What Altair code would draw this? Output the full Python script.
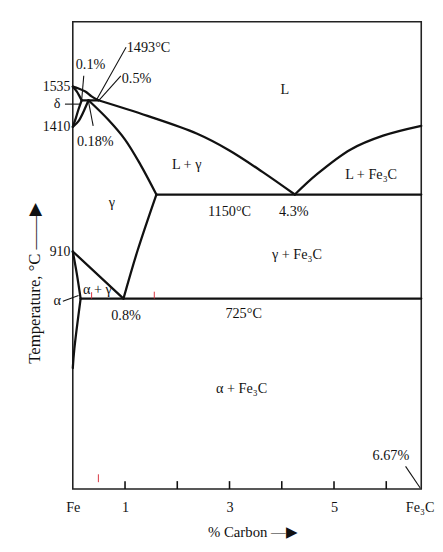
import altair as alt
import pandas as pd

# ---------------- data (composition in % carbon, temperature in °C) ----------------
liq_delta_c = [0, 0.11, 0.24, 0.36, 0.49]
liq_delta_t = [1535, 1529, 1520, 1505, 1493]

liquidus_c = [0.49, 1.43, 2.37, 2.99, 3.63, 4.25]
liquidus_t = [1493, 1444, 1384, 1320, 1237, 1150]

liq_right_c = [4.25, 4.68, 5.32, 5.94, 6.67]
liq_right_t = [1150, 1229, 1323, 1376, 1413]

delta_up_c = [0, 0.075, 0.13, 0.17]
delta_up_t = [1535, 1520, 1505, 1493]

delta_low_c = [0, 0.06, 0.11, 0.17]
delta_low_t = [1410, 1438, 1465, 1493]

gamma_left_c = [0, 0.11, 0.21, 0.30]
gamma_left_t = [1410, 1428, 1459, 1493]

peritectic_c = [0.17, 0.49]
peritectic_t = [1493, 1493]

solidus_c = [0.30, 0.68, 1.0, 1.30, 1.6]
solidus_t = [1493, 1432, 1361, 1263, 1150]

eutectic_c = [1.6, 6.67]
eutectic_t = [1150, 1150]

acm_c = [0.97, 1.24, 1.6]
acm_t = [725, 914, 1150]

a3_c = [0, 0.97]
a3_t = [910, 725]

alpha_up_c = [0, 0.075, 0.15]
alpha_up_t = [910, 825, 725]

alpha_low_c = [0.15, 0.03, 0]
alpha_low_t = [725, 534, 460]

eutectoid_c = [0.15, 6.67]
eutectoid_t = [725, 725]

# leader lines for annotations
lead_delta_c = [-0.15, 0.15]
lead_delta_t = [1481, 1481]
lead_alpha_c = [-0.19, 0.11]
lead_alpha_t = [715, 737]
lead_01_c = [0.21, 0.17]
lead_01_t = [1579, 1493]
lead_1493_c = [1.02, 0.45]
lead_1493_t = [1696, 1493]
lead_05_c = [0.92, 0.50]
lead_05_t = [1579, 1493]
lead_018_c = [0.30, 0.39]
lead_018_t = [1490, 1413]
lead_667_c = [6.37, 6.65]
lead_667_t = [86, 4]

# text annotations
label_text = ["1493°C", "0.1%", "0.5%", "0.18%", "δ", "α", "L", "L + γ", "L + Fe₃C", "γ",
              "1150°C", "4.3%", "γ + Fe₃C", "α + γ", "0.8%", "725°C", "α + Fe₃C", "6.67%"]
label_c = [1.45, 0.34, 1.22, 0.43, -0.30, -0.30, 4.06, 2.18, 5.71, 0.75,
           3.0, 4.23, 4.29, 0.47, 1.02, 3.27, 3.23, 6.09]
label_t = [1692, 1623, 1567, 1350, 1481, 715, 1523, 1263, 1226, 1113,
           1076, 1076, 895, 760, 658, 665, 381, 127]

# inner ticks on the composition axis
tick_c = [1, 2, 3, 4, 5, 6]
tick_lo = [0, 0, 0, 0, 0, 0]
tick_hi = [30, 30, 30, 30, 30, 30]

# small red marks visible on the original
red_c = [0.36, 1.56, 0.49]
red_lo = [725, 725, 26]
red_hi = [750, 752, 56]

# axis label values
x_label_values = [0, 1, 3, 5, 6.67]
y_label_values = [910, 1410, 1535]

# ---------------- tables ----------------
boundaries = [
    ("liq_delta", liq_delta_c, liq_delta_t),
    ("liquidus", liquidus_c, liquidus_t), ("liq_right", liq_right_c, liq_right_t),
    ("delta_up", delta_up_c, delta_up_t), ("delta_low", delta_low_c, delta_low_t),
    ("gamma_left", gamma_left_c, gamma_left_t), ("peritectic", peritectic_c, peritectic_t),
    ("solidus", solidus_c, solidus_t), ("eutectic", eutectic_c, eutectic_t),
    ("acm", acm_c, acm_t), ("a3", a3_c, a3_t),
    ("alpha_up", alpha_up_c, alpha_up_t), ("alpha_low", alpha_low_c, alpha_low_t),
    ("eutectoid", eutectoid_c, eutectoid_t),
]
leaders = [
    ("l_delta", lead_delta_c, lead_delta_t), ("l_alpha", lead_alpha_c, lead_alpha_t),
    ("l_01", lead_01_c, lead_01_t), ("l_1493", lead_1493_c, lead_1493_t),
    ("l_05", lead_05_c, lead_05_t), ("l_018", lead_018_c, lead_018_t),
    ("l_667", lead_667_c, lead_667_t),
]


def to_rows(segs):
    rows = []
    for name, cs, ts in segs:
        for i, (c, t) in enumerate(zip(cs, ts)):
            rows.append({"seg": name, "o": i, "c": c, "t": t})
    return pd.DataFrame(rows)


df_bound = to_rows(boundaries)
df_lead = to_rows(leaders)
df_text = pd.DataFrame({"label": label_text, "c": label_c, "t": label_t})
df_ticks = pd.DataFrame({"c": tick_c, "t": tick_lo, "t2": tick_hi})
df_red = pd.DataFrame({"c": red_c, "t": red_lo, "t2": red_hi})

FONT = "Liberation Serif"
INK = "#111111"

x_scale = alt.Scale(domain=[0, 6.67], nice=False, zero=False)
# schematic (piecewise) temperature axis as drawn in the original
y_scale = alt.Scale(domain=[0, 725, 910, 1150, 1410, 1493, 1535, 1800],
                    range=[476, 282, 234, 176, 107, 80, 66, 0], nice=False, zero=False)

x_axis = alt.Axis(values=x_label_values,
                  labelExpr="datum.value == 0 ? 'Fe' : datum.value > 6 ? 'Fe₃C' : format(datum.value, 'd')",
                  ticks=False, domain=False, grid=False, labelFlush=False, labelOverlap=False,
                  labelFont=FONT, labelFontSize=14.5, labelColor=INK, labelPadding=12,
                  labelAlign={"condition": {"test": "datum.value > 6", "value": "right"},
                              "value": "center"},
                  labelOffset={"condition": {"test": "datum.value > 6", "value": 13},
                               "value": 0},
                  title="% Carbon —▶", titleFont=FONT, titleFontSize=15, titleFontWeight="normal",
                  titleColor=INK, titleX=183, titleY=43, titleBaseline="middle", titleAlign="center")
y_axis = alt.Axis(values=y_label_values, labelExpr="format(datum.value, 'd')",
                  ticks=False, domain=False, grid=False, labelOverlap=False,
                  labelFont=FONT, labelFontSize=14, labelColor=INK, labelPadding=3,
                  title="Temperature, °C    ——▶", titleFont=FONT, titleFontSize=17,
                  titleFontWeight="normal", titleColor=INK, titleAngle=270,
                  titleX=-39, titleY=266, titleBaseline="middle", titleAlign="center")

X = alt.X("c:Q", scale=x_scale, axis=x_axis)
Y = alt.Y("t:Q", scale=y_scale, axis=y_axis)

bound_layer = alt.Chart(df_bound).mark_line(color=INK, strokeWidth=2.3, strokeJoin="round",
                                            strokeCap="round", interpolate="catmull-rom").encode(
    x=X, y=Y, detail="seg:N", order="o:Q")

lead_layer = alt.Chart(df_lead).mark_line(color=INK, strokeWidth=1.1).encode(
    x=X, y=Y, detail="seg:N", order="o:Q")

tick_layer = alt.Chart(df_ticks).mark_rule(color=INK, strokeWidth=1.6).encode(
    x=X, y=Y, y2="t2:Q")

red_layer = alt.Chart(df_red).mark_rule(color="#d8343f", strokeWidth=1).encode(
    x=X, y=Y, y2="t2:Q")

text_layer = alt.Chart(df_text).mark_text(font=FONT, fontSize=14.5, color=INK,
                                          align="center", baseline="middle").encode(
    x=X, y=Y, text="label:N")

chart = alt.layer(bound_layer, lead_layer, tick_layer, red_layer, text_layer).properties(
    width=355, height=476,
    autosize=alt.AutoSizeParams(type="none"),
    padding={"left": 66, "top": 9, "right": 14, "bottom": 51},
    background="white",
).configure_view(stroke="#222222", strokeWidth=1.6)

chart.save("out.html", embed_options={"renderer": "svg", "actions": False})
